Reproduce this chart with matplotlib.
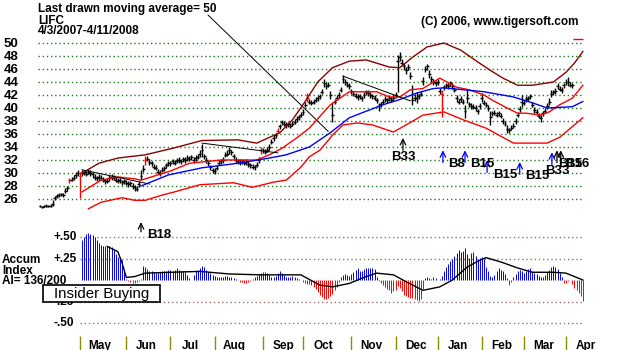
import numpy as np
import matplotlib
matplotlib.use('Agg')
import matplotlib.pyplot as plt
from matplotlib.patches import Rectangle

plt.rcParams['font.family'] = ['Liberation Sans', 'DejaVu Sans']

# ---- daily price bars, 4/3/2007 .. 4/2008 (trading day index 0..253) ----
closes = [
    24.9, 24.8, 24.9, 25.0, 24.9, 25.0, 25.3, 26.2, 26.5, 26.6, 26.7, 26.6, 27.3, 27.7, 28.9, 29.0, 29.3, 29.7, 30.0,  # Apr
    29.5, 30.0, 30.1, 29.9, 30.2, 30.0, 29.8, 29.4, 29.2, 29.4, 29.3, 29.0, 28.7, 28.8, 29.2, 29.4, 29.3, 29.0, 28.8, 28.9, 28.6, 28.7,  # May
    28.5, 28.3, 28.4, 28.0, 27.8, 27.6, 28.3, 29.6, 30.6, 32.0, 32.2, 31.7, 31.5, 31.0, 30.8, 30.2, 30.0, 30.5, 30.7, 31.2, 31.5,  # Jun
    31.5, 31.8, 31.6, 31.9, 32.0, 31.8, 32.1, 32.0, 32.3, 32.2, 32.4, 32.0, 32.3, 32.5, 33.0, 33.5, 32.6, 32.0, 31.5, 30.9, 30.4,  # Jul
    30.3, 30.8, 31.6, 31.8, 32.0, 32.8, 33.0, 33.5, 33.2, 32.6, 32.0, 31.8, 31.7, 31.8, 31.6, 31.7, 31.4, 31.2, 31.0, 30.9, 31.3, 32.0, 33.6,  # Aug
    33.5, 33.3, 33.6, 34.0, 34.8, 35.4, 35.8, 36.5, 37.2, 37.8, 37.6, 37.4, 37.5, 37.3, 37.6, 37.9, 38.3, 38.6, 39.0,  # Sep
    39.4, 40.5, 41.6, 41.0, 40.8, 41.0, 41.3, 41.5, 41.8, 42.5, 43.8, 43.4, 43.6, 42.0, 39.0, 41.0, 41.6, 42.0, 42.8, 44.5, 44.0, 43.6, 43.4,  # Oct
    42.6, 42.2, 41.9, 41.7, 41.8, 41.5, 42.0, 42.4, 42.3, 42.0, 41.8, 41.6, 41.2, 40.3, 40.6, 41.0, 41.4, 41.2, 41.5, 41.3, 41.6,  # Nov
    42.0, 47.2, 47.8, 47.0, 46.4, 45.8, 46.3, 45.0, 41.2, 41.6, 41.5, 41.8, 42.2, 44.2, 46.0, 46.4, 45.2, 44.5, 44.0, 43.8,  # Dec
    44.0, 42.6, 42.2, 43.2, 43.5, 43.4, 43.8, 43.4, 42.8, 41.5, 41.0, 41.4, 41.0, 39.5, 41.5, 40.6, 40.3, 40.2, 40.0, 39.5, 40.3,  # Jan
    41.5, 40.8, 40.5, 40.0, 38.6, 39.2, 39.3, 39.0, 39.2, 38.8, 38.0, 37.6, 36.8, 36.6, 37.0, 37.3, 38.0, 39.0, 39.8, 41.0,  # Feb
    40.8, 41.4, 41.5, 41.8, 40.5, 39.7, 39.4, 38.8, 38.5, 39.2, 39.6, 40.3, 41.0, 42.2, 42.4, 42.6, 43.4, 43.0, 42.8, 43.5,  # Mar
    44.0, 44.0, 43.6, 43.5,  # Apr
]
highs = [
    25.1, 25.0, 25.1, 25.2, 25.1, 25.3, 25.8, 26.5, 26.8, 26.9, 27.0, 26.9, 27.7, 28.0, 29.2, 29.4, 29.7, 30.1, 30.4,
    30.1, 30.4, 30.5, 30.3, 30.6, 30.4, 30.2, 29.9, 29.6, 29.8, 29.7, 29.4, 29.1, 29.2, 29.7, 29.9, 29.7, 29.4, 29.2, 29.3, 29.0, 29.1,
    28.9, 28.7, 28.8, 28.4, 28.2, 28.0, 28.8, 30.5, 31.2, 32.6, 32.6, 32.1, 31.9, 31.4, 31.2, 30.6, 30.4, 30.9, 31.1, 31.6, 31.9,
    31.9, 32.2, 32.0, 32.3, 32.4, 32.2, 32.5, 32.4, 32.7, 32.6, 32.8, 32.4, 32.7, 32.9, 33.5, 34.4, 33.0, 32.4, 31.9, 31.3, 30.8,
    30.7, 31.2, 32.0, 32.2, 32.4, 33.2, 33.5, 34.0, 33.6, 33.0, 32.4, 32.2, 32.1, 32.2, 32.0, 32.1, 31.8, 31.6, 31.4, 31.3, 31.7, 32.4, 34.0,
    33.9, 33.7, 34.0, 34.4, 35.2, 35.8, 36.2, 36.9, 37.6, 38.2, 38.0, 37.8, 37.9, 37.7, 38.0, 38.3, 38.7, 39.0, 39.4,
    39.8, 40.9, 42.3, 41.4, 41.2, 41.4, 41.7, 41.9, 42.2, 42.9, 44.5, 43.8, 44.0, 42.6, 40.8, 41.4, 42.0, 42.4, 43.2, 45.1, 44.4, 44.0, 43.8,
    43.0, 42.6, 42.3, 42.1, 42.2, 41.9, 42.4, 42.8, 42.7, 42.4, 42.2, 42.0, 41.6, 40.8, 41.0, 41.4, 41.8, 41.6, 41.9, 41.7, 42.0,
    42.5, 48.2, 48.6, 47.6, 46.9, 46.3, 46.7, 45.6, 43.5, 42.1, 42.5, 42.2, 42.6, 44.8, 46.4, 46.8, 45.8, 45.0, 44.4, 44.2,
    44.4, 43.1, 42.8, 43.6, 43.9, 43.8, 44.2, 43.8, 43.2, 42.0, 41.4, 41.8, 41.4, 40.5, 42.8, 41.0, 40.7, 40.6, 40.4, 39.9, 40.7,
    42.3, 41.2, 40.9, 40.4, 39.6, 39.6, 39.7, 39.4, 39.6, 39.2, 38.4, 38.0, 37.4, 37.0, 37.4, 37.7, 38.5, 39.4, 40.3, 42.0,
    41.2, 41.8, 41.9, 42.2, 40.9, 40.1, 39.8, 39.2, 38.9, 39.6, 40.0, 40.7, 41.5, 42.8, 42.8, 43.1, 43.8, 43.4, 43.2, 43.9,
    44.5, 44.8, 44.0, 43.9,
]
lows = [
    24.7, 24.6, 24.7, 24.8, 24.7, 24.8, 25.0, 25.8, 26.2, 26.3, 26.4, 26.3, 26.9, 27.3, 28.5, 28.7, 29.0, 29.3, 29.6,
    26.2, 29.6, 29.7, 29.5, 29.8, 29.6, 29.3, 29.0, 28.8, 29.0, 28.9, 28.6, 28.3, 28.4, 28.8, 29.0, 28.9, 28.6, 28.4, 28.5, 28.2, 28.3,
    28.1, 27.9, 28.0, 27.6, 27.3, 27.2, 27.8, 29.0, 30.2, 31.3, 31.8, 31.3, 31.1, 30.6, 30.4, 29.8, 29.6, 30.1, 30.3, 30.8, 31.1,
    31.1, 31.4, 31.2, 31.5, 31.6, 31.4, 31.7, 31.6, 31.9, 31.8, 32.0, 31.6, 31.9, 32.1, 32.4, 32.4, 32.2, 31.6, 31.1, 30.5, 30.0,
    29.9, 30.4, 31.2, 31.4, 31.6, 32.4, 32.6, 33.0, 32.8, 32.2, 31.6, 31.4, 31.3, 31.4, 31.2, 31.3, 31.0, 30.8, 30.6, 30.5, 30.9, 31.6, 33.0,
    33.1, 32.9, 33.2, 33.6, 34.4, 35.0, 35.4, 36.1, 36.8, 37.4, 37.2, 37.0, 37.1, 36.9, 37.2, 37.5, 37.9, 38.2, 38.6,
    39.0, 40.1, 41.0, 40.6, 40.4, 40.6, 40.9, 41.1, 41.4, 42.1, 43.2, 43.0, 43.2, 41.4, 37.8, 40.6, 41.2, 41.6, 42.4, 43.8, 43.6, 43.2, 43.0,
    42.2, 41.8, 41.5, 41.3, 41.4, 41.1, 41.6, 42.0, 41.9, 41.6, 41.4, 41.2, 40.8, 39.5, 40.2, 40.6, 41.0, 40.8, 41.1, 40.9, 41.2,
    41.6, 42.5, 47.2, 46.5, 45.9, 45.3, 45.8, 44.5, 40.5, 41.1, 40.8, 41.4, 41.8, 43.6, 45.5, 45.9, 44.6, 44.0, 43.6, 43.4,
    43.6, 42.1, 38.6, 42.8, 43.1, 43.0, 43.4, 43.0, 42.4, 40.9, 40.6, 41.0, 40.6, 38.5, 40.8, 40.2, 39.9, 39.8, 39.6, 39.1, 39.9,
    41.0, 40.4, 40.1, 39.6, 37.4, 38.8, 38.9, 38.6, 38.8, 38.4, 37.6, 37.2, 36.2, 36.2, 36.6, 36.9, 37.5, 38.6, 39.4, 40.2,
    40.4, 41.0, 41.1, 41.4, 40.1, 39.3, 39.0, 38.4, 37.8, 38.8, 39.2, 39.9, 40.5, 41.7, 42.0, 42.2, 43.0, 42.6, 42.3, 43.1,
    43.5, 43.4, 43.2, 43.1,
]
red_bar_days = [14, 19, 50, 105, 113, 127, 191]

# ---- bands / moving averages (day, price) ----
upper_band_days = [20, 28, 37, 50, 63, 77, 94, 103, 114, 120, 125, 132, 139, 147, 155, 166, 171, 177, 184, 192, 200, 208, 214, 220, 227, 234, 244, 250, 254, 258]
upper_band = [30.0, 31.5, 32.3, 32.8, 33.8, 35.0, 35.1, 34.6, 36.2, 38.2, 40.5, 44.0, 46.2, 47.2, 47.4, 46.3, 46.2, 47.8, 49.4, 50.0, 48.9, 47.1, 45.8, 44.6, 43.5, 43.5, 44.0, 45.5, 46.9, 48.7]
ma21_days = [20, 29, 37, 45, 48, 53, 62, 71, 86, 103, 109, 115, 122, 128, 138, 147, 160, 166, 171, 176, 182, 187, 190, 198, 204, 211, 215, 222, 227, 231, 238, 242, 247, 253, 258]
ma21 = [27.1, 28.9, 29.4, 29.1, 28.9, 29.4, 30.3, 31.5, 32.0, 32.0, 32.8, 33.8, 35.4, 36.9, 40.5, 42.5, 42.5, 41.7, 41.7, 42.8, 43.0, 44.0, 44.6, 43.2, 42.8, 42.0, 41.2, 40.0, 39.2, 39.2, 38.9, 39.4, 40.5, 41.5, 43.5]
ma50_days = [48, 61, 77, 94, 109, 117, 128, 138, 147, 155, 163, 171, 179, 187, 192, 211, 225, 234, 241, 253, 258]
ma50 = [28.0, 29.7, 30.8, 31.5, 32.3, 32.8, 34.0, 36.2, 38.5, 39.5, 40.5, 41.3, 42.3, 43.0, 43.1, 42.5, 41.7, 40.8, 40.0, 40.2, 41.0]
lower_band_days = [23, 29, 39, 45, 50, 58, 64, 76, 92, 101, 111, 117, 124, 128, 133, 139, 144, 151, 158, 168, 174, 182, 192, 201, 212, 225, 241, 247, 258]
lower_band = [24.5, 25.5, 26.2, 25.8, 25.8, 26.6, 27.1, 28.2, 28.5, 27.8, 28.6, 28.9, 30.9, 32.5, 33.5, 35.8, 37.4, 37.7, 37.4, 36.3, 37.4, 38.9, 39.4, 38.2, 36.9, 34.6, 34.6, 35.5, 38.5]
trend_lines = [((20, 30.5), (52, 28.3)), ((77, 34.6), (113, 33.1)), ((144, 44.9), (176, 41.1))]
price_levels = list(range(26, 52, 2))

# ---- buy signals ----
sig_days = [172.5, 191.5, 202, 212.5, 228, 243.3, 245.7, 247.5]
sig_tips = [35.4, 33.5, 33.5, 32.0, 31.7, 33.2, 33.5, 33.5]
sig_colors = ['black', 'blue', 'blue', 'blue', 'blue', 'blue', 'black', 'black']

# ---- accumulation index, days 20..258 ----
ai_start = 20
ai_vals = [
    0.47, 0.50, 0.54, 0.55, 0.54, 0.52, 0.50, 0.47, 0.43, 0.41,
    0.40, 0.40, 0.40, 0.39, 0.38, 0.35, 0.30, 0.27, 0.25, 0.23,
    0.10, 0.01, -0.01, -0.02, -0.04, -0.03, -0.02, -0.01, 0.01, 0.16,
    0.15, 0.13, 0.11, 0.10, 0.09, 0.08, 0.09, 0.09, 0.10, 0.10,
    0.11, 0.12, 0.12, 0.10, 0.12, 0.14, 0.12, 0.11, 0.10, 0.09,
    0.06, 0.02, 0.00, 0.06, 0.10, 0.12, 0.14, 0.16, 0.15, 0.12,
    0.09, 0.08, 0.06, 0.05, 0.04, 0.03, 0.03, 0.04, 0.05, 0.05,
    0.04, 0.03, 0.02, 0.01, 0.00, -0.02, -0.02, -0.03, -0.03, -0.02,
    -0.01, 0.01, 0.03, 0.05, 0.07, 0.08, 0.09, 0.09, 0.08, 0.06,
    0.04, 0.03, 0.05, 0.08, 0.11, 0.08, 0.06, 0.04, 0.03, 0.04,
    0.05, 0.04, 0.02, 0.01, 0.00, -0.02, -0.04, -0.05, -0.05, -0.06,
    -0.08, -0.11, -0.14, -0.17, -0.20, -0.22, -0.22, -0.21, -0.19, -0.16,
    -0.12, -0.08, -0.02, 0.04, 0.06, 0.07, 0.06, 0.05, 0.07, 0.09,
    0.12, 0.14, 0.11, 0.10, 0.13, 0.14, 0.14, 0.14, 0.14, 0.13,
    0.03, -0.01, -0.03, -0.06, -0.08, -0.10, -0.12, -0.15, -0.13, -0.12,
    -0.07, -0.09, -0.13, -0.17, -0.19, -0.20, -0.21, -0.21, -0.22, -0.23,
    -0.24, -0.22, -0.10, 0.02, 0.03, 0.02, 0.01, 0.03, 0.02, 0.00,
    0.01, 0.05, 0.10, 0.15, 0.19, 0.22, 0.25, 0.28, 0.31, 0.35,
    0.32, 0.34, 0.37, 0.30, 0.26, 0.31, 0.32, 0.28, 0.24, 0.26,
    0.27, 0.25, 0.15, 0.10, 0.05, 0.04, 0.06, 0.11, 0.14, 0.12,
    0.10, 0.07, 0.02, -0.06, -0.02, 0.03, 0.07, 0.10, 0.12, 0.10,
    0.08, 0.10, 0.13, 0.14, 0.10, 0.08, 0.07, 0.05, 0.04, 0.03,
    0.06, 0.09, 0.12, 0.15, 0.16, 0.15, 0.13, 0.08, 0.03, -0.04,
    -0.03, -0.01, 0.00, -0.05, -0.09, -0.12, -0.15, -0.19, -0.24,
]
ai_ma_days = [32, 37, 39, 41, 45, 50, 62, 76, 90, 105, 119, 124, 133, 139, 147, 155, 160, 168, 174, 182, 190, 196, 203, 209, 212, 219, 227, 234, 244, 250, 258]
ai_ma = [0.39, 0.33, 0.20, 0.03, 0.04, 0.08, 0.09, 0.10, 0.07, 0.06, 0.06, 0.06, -0.06, -0.08, -0.04, 0.04, 0.08, 0.06, -0.02, -0.12, -0.08, 0.00, 0.15, 0.23, 0.26, 0.21, 0.14, 0.09, 0.09, 0.08, 0.00]
ai_levels = [0.50, 0.25, -0.25, -0.50]
ai_labels = ['+.50', '+.25', '-.25', '-.50']

month_starts = [19, 41, 62, 83, 106, 125, 148, 169, 189, 210, 230, 250]
month_names = ['May', 'Jun', 'Jul', 'Aug', 'Sep', 'Oct', 'Nov', 'Dec', 'Jan', 'Feb', 'Mar', 'Apr']

W, H = 627, 350


def fpos(x, y):
    # pixel position (top-left origin) -> figure fraction
    return x / W, 1 - y / H


fig = plt.figure(figsize=(6.27, 3.5), dpi=100)
fig.patch.set_facecolor('white')
XL = (-19.01, 278.99)

ax = fig.add_axes([0, 135 / H, 1, 215 / H])
ax.set_xlim(*XL)
ax.set_ylim(23.54, 56.615)
ax.axis('off')

ax2 = fig.add_axes([0, 0, 1, 135 / H])
ax2.set_xlim(*XL)
ax2.set_ylim(-0.814, 0.756)
ax2.axis('off')

arrow_kw = dict(arrowstyle='->,head_length=0.45,head_width=0.22', lw=0.9,
                shrinkA=0, shrinkB=0, mutation_scale=9)

# price grid
ax.hlines(price_levels, -0.95, 258.1, colors='#1e7d1e', linestyles=(0, (1, 2)), lw=1, zorder=1)
for p in price_levels:
    ax.text(-17.3, p - 0.62, str(p), fontsize=9.5, fontweight='bold', va='baseline', ha='left')

# bars
days = np.arange(len(closes))
bar_cols = ['red' if d in red_bar_days else 'black' for d in days]
ax.vlines(days, lows, highs, colors=bar_cols, lw=1, zorder=3)
ax.hlines(closes, days - 0.7, days + 0.7, colors=bar_cols, lw=1, zorder=3)

# bands and averages
ax.plot(upper_band_days, upper_band, color='#8b0000', lw=1, zorder=4)
ax.plot(ma21_days, ma21, color='red', lw=1, zorder=4)
ax.plot(ma50_days, ma50, color='blue', lw=1, zorder=4)
ax.plot(lower_band_days, lower_band, color='red', lw=1, zorder=4)
for (x0, y0), (x1, y1) in trend_lines:
    ax.plot([x0, x1], [y0, y1], color='black', lw=0.7, zorder=4)
ax.hlines(50.6, 253.3, 258.1, colors='red', lw=1)

# signals
for d, tip, c in zip(sig_days, sig_tips, sig_colors):
    ax.annotate('', xy=(d, tip), xytext=(d, tip - 1.9),
                arrowprops=dict(color=c, **arrow_kw))
sig_font = dict(fontsize=9.5, fontweight='bold', va='baseline')
fig.text(*fpos(391, 160), 'B33', **sig_font)
fig.text(*fpos(448, 167), 'B8', **sig_font)
fig.text(*fpos(470, 167), 'B15', **sig_font)
fig.text(*fpos(493, 178), 'B15', **sig_font)
fig.text(*fpos(525, 179), 'B15', **sig_font)
fig.text(*fpos(545, 174), 'B33', **sig_font)
fig.text(*fpos(558, 167), 'B15', **sig_font)
fig.text(*fpos(565, 167), 'B16', **sig_font)

# titles
fig.text(*fpos(38, 12), 'Last drawn moving average= 50', fontsize=8.5, fontweight='bold', va='baseline')
fig.text(*fpos(38, 24), 'LIFC', fontsize=8.5, fontweight='bold', va='baseline')
fig.text(*fpos(38, 34), '4/3/2007-4/11/2008', fontsize=8.5, fontweight='bold', va='baseline')
fig.text(*fpos(421, 25), '(C) 2006, www.tigersoft.com', fontsize=8.5, fontweight='bold', va='baseline')
ax.annotate('', xy=(137, 36.4), xycoords='data', xytext=fpos(208, 15), textcoords='figure fraction',
            arrowprops=dict(arrowstyle='-', color='black', lw=0.7, shrinkA=0, shrinkB=0))

# accumulation index
ai_days = np.arange(ai_start, ai_start + len(ai_vals))
ai_arr = np.array(ai_vals)
ax2.hlines(ai_levels, 19, 258.1, colors='#9a7070', linestyles=(0, (1, 2)), lw=1, zorder=1)
ax2.vlines(ai_days, 0, ai_arr, colors=np.where(ai_arr >= 0, 'blue', 'red'), lw=0.7, zorder=2)
ax2.plot(ai_ma_days, ai_ma, color='black', lw=1, zorder=3)
for lv, lab in zip(ai_levels, ai_labels):
    ax2.text(6.2, lv - 0.035, lab, fontsize=8.5, fontweight='bold', va='baseline')

fig.text(*fpos(2, 263), 'Accum', fontsize=8.5, fontweight='bold', va='baseline')
fig.text(*fpos(2, 274), 'Index', fontsize=8.5, fontweight='bold', va='baseline')
fig.text(*fpos(2, 284), 'AI= 136/200', fontsize=8.5, fontweight='bold', va='baseline')
bx0, by0 = fpos(43, 302)
bx1, by1 = fpos(160, 285)
fig.patches.append(Rectangle((bx0, by0), bx1 - bx0, by1 - by0, transform=fig.transFigure,
                             facecolor='white', edgecolor='black', lw=1.2, zorder=5))
fig.text(*fpos(101.5, 294), 'Insider Buying', fontsize=10.8, ha='center', va='center', zorder=6)

ax2.annotate('', xy=(48, 0.674), xytext=(48, 0.56), arrowprops=dict(color='black', **arrow_kw))
fig.text(*fpos(147, 238), 'B18', fontsize=9.5, fontweight='bold', va='baseline')

# month axis
ax2.vlines(month_starts, -0.814, -0.651, colors='#8c8c00', lw=1)
for d, name in zip(month_starts, month_names):
    ax2.text(d + 9.5, -0.80, name, fontsize=8.5, fontweight='bold', ha='center', va='baseline')

fig.savefig('out.png', dpi=100, facecolor='white')
